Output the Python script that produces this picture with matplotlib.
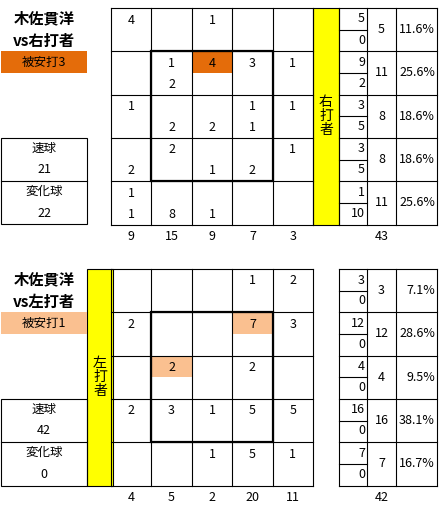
import matplotlib
matplotlib.use("Agg")
import matplotlib.pyplot as plt
from matplotlib.patches import Rectangle

plt.rcParams['font.family'] = ['Noto Sans CJK JP', 'DejaVu Sans']

# ---- data: vs right-handed batters (upper = fastball, lower = breaking)
r_upper = [[4, None, 1, None, None],
           [None, 1, 4, 3, 1],
           [1, None, None, 1, 1],
           [None, 2, None, None, 1],
           [1, None, None, None, None]]
r_lower = [[None, None, None, None, None],
           [None, 2, None, None, None],
           [None, 2, 2, 1, None],
           [2, None, 1, 2, None],
           [1, 8, 1, None, None]]
r_col_tot = [9, 15, 9, 7, 3]
r_row_fast = [5, 9, 3, 3, 1]
r_row_brk = [0, 2, 5, 5, 10]
r_row_tot = [5, 11, 8, 8, 11]
r_row_pct = ['11.6%', '25.6%', '18.6%', '18.6%', '25.6%']
r_total = 43
r_hits = 3
r_fast, r_brk = 21, 22
r_hit_cells = [(1, 2)]

# ---- data: vs left-handed batters
l_upper = [[None, None, None, 1, 2],
           [2, None, None, 7, 3],
           [None, 2, None, 2, None],
           [2, 3, 1, 5, 5],
           [None, None, 1, 5, 1]]
l_lower = [[None] * 5 for _ in range(5)]
l_col_tot = [4, 5, 2, 20, 11]
l_row_fast = [3, 12, 4, 16, 7]
l_row_brk = [0, 0, 0, 0, 0]
l_row_tot = [3, 12, 4, 16, 7]
l_row_pct = ['7.1%', '28.6%', '9.5%', '38.1%', '16.7%']
l_total = 42
l_hits = 1
l_fast, l_brk = 42, 0
l_hit_cells = [(1, 3), (2, 1)]

W, H = 445, 514
fig = plt.figure(figsize=(W / 100, H / 100), dpi=100)
ax = fig.add_axes([0, 0, 1, 1])
ax.set_xlim(0, W)
ax.set_ylim(H, 0)
ax.axis('off')

FS = 9
LW = 0.8


def line(x0, y0, x1, y1, lw=LW):
    ax.plot([x0, x1], [y0, y1], color='black', lw=lw, solid_capstyle='projecting')


def box(x, y, w, h, lw=LW, fc='none', ec='black'):
    ax.add_patch(Rectangle((x, y), w, h, fc=fc, ec=ec, lw=lw))


def panel(y0, upper, lower, col_tot, row_fast, row_brk, row_tot, row_pct,
          total, hits, fast, brk, hit_cells, hit_color, side, bar_x):
    gx0, cw = 111, 40.4
    rh = 43.3
    # highlighted cells (upper half)
    for r, c in hit_cells:
        box(gx0 + c * cw, y0 + r * rh, cw, rh / 2, lw=0, fc=hit_color, ec='none')
    # grid
    for i in range(6):
        line(gx0 + i * cw, y0, gx0 + i * cw, y0 + 5 * rh)
        line(gx0, y0 + i * rh, gx0 + 5 * cw, y0 + i * rh)
    # strike zone
    box(gx0 + cw, y0 + rh, 3 * cw, 3 * rh, lw=1.6)
    # values
    for r in range(5):
        for c in range(5):
            cx = gx0 + (c + 0.5) * cw
            if upper[r][c] is not None:
                ax.text(cx, y0 + r * rh + 12, str(upper[r][c]), ha='center', va='center', fontsize=FS)
            if lower[r][c] is not None:
                ax.text(cx, y0 + r * rh + 33, str(lower[r][c]), ha='center', va='center', fontsize=FS)
    for c in range(5):
        ax.text(gx0 + (c + 0.5) * cw, y0 + 5 * rh + 12, str(col_tot[c]),
                ha='center', va='center', fontsize=FS)
    # yellow side bar
    box(bar_x, y0, 26, 5 * rh, lw=LW, fc='#FFFF00')
    ax.text(bar_x + 13, y0 + 2.5 * rh, '\n'.join(side + '打者'), ha='center', va='center',
            fontsize=FS + 1, linespacing=1.0)
    # right table
    tx = [339, 367, 396, 437]
    for i in range(4):
        line(tx[i], y0, tx[i], y0 + 5 * rh)
    for r in range(6):
        line(tx[0], y0 + r * rh, tx[3], y0 + r * rh)
    for r in range(5):
        ry = y0 + r * rh
        line(tx[0], ry + rh / 2, tx[1], ry + rh / 2)
        ax.text(tx[1] - 2, ry + 11, str(row_fast[r]), ha='right', va='center', fontsize=FS)
        ax.text(tx[1] - 2, ry + 32, str(row_brk[r]), ha='right', va='center', fontsize=FS)
        ax.text((tx[1] + tx[2]) / 2, ry + rh / 2, str(row_tot[r]), ha='center', va='center', fontsize=FS)
        ax.text(tx[3] - 2, ry + rh / 2, row_pct[r], ha='right', va='center', fontsize=FS)
    ax.text((tx[1] + tx[2]) / 2, y0 + 5 * rh + 12, str(total), ha='center', va='center', fontsize=FS)
    # titles
    ax.text(44, y0 + 10, '木佐貫洋', ha='center', va='center', fontsize=11, fontweight='bold')
    ax.text(44, y0 + 33, 'vs' + side + '打者', ha='center', va='center', fontsize=11, fontweight='bold')
    box(1, y0 + rh, 86, 22, lw=0, fc=hit_color, ec='none')
    ax.text(44, y0 + rh + 11, '被安打' + str(hits), ha='center', va='center', fontsize=FS)
    # pitch type box
    by = y0 + 3 * rh
    box(1, by, 86, 2 * rh)
    line(1, by + rh, 87, by + rh)
    ax.text(44, by + 10, '速球', ha='center', va='center', fontsize=FS)
    ax.text(44, by + 32, str(fast), ha='center', va='center', fontsize=FS)
    ax.text(44, by + rh + 10, '変化球', ha='center', va='center', fontsize=FS)
    ax.text(44, by + rh + 32, str(brk), ha='center', va='center', fontsize=FS)


panel(8, r_upper, r_lower, r_col_tot, r_row_fast, r_row_brk, r_row_tot, r_row_pct,
      r_total, r_hits, r_fast, r_brk, r_hit_cells, '#E46C0A', '右', 313)
panel(269, l_upper, l_lower, l_col_tot, l_row_fast, l_row_brk, l_row_tot, l_row_pct,
      l_total, l_hits, l_fast, l_brk, l_hit_cells, '#FAC090', '左', 87)

fig.savefig('out.png', dpi=100)
